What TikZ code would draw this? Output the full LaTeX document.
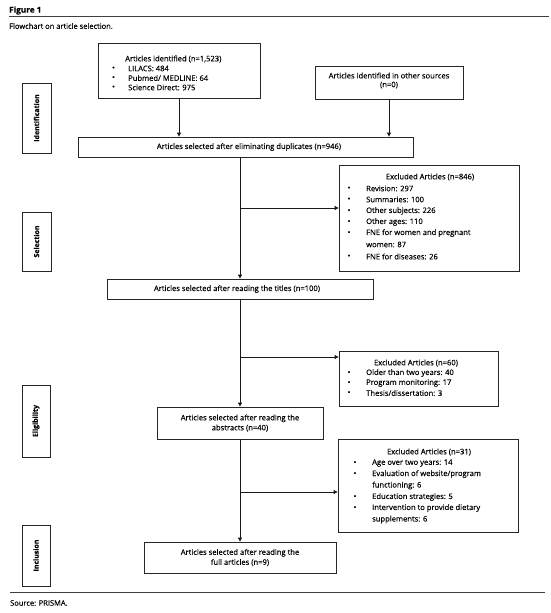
\documentclass[tikz,border=0pt]{standalone}
\usepackage{fontspec}
\setmainfont{Open Sans}[FakeBold=0.25]
\usetikzlibrary{arrows.meta}
\begin{document}
\begin{tikzpicture}[x=1pt,y=-1pt,
  every node/.style={font=\fontsize{7.6}{10}\selectfont, text=black},
  box/.style={draw=black!85, line width=0.8pt, inner sep=0pt, align=center},
  stagetext/.style={rotate=90, font=\fontsize{7}{8}\selectfont\bfseries, inner sep=0pt},
  txt/.style={anchor=west, inner sep=0pt},
  bul/.style={anchor=center, inner sep=0pt, font=\fontsize{7.5}{8}\selectfont},
  conn/.style={draw=black!90, line width=0.8pt},
  arr/.style={conn, -{Triangle[length=4pt,width=4pt]}},
  rulea/.style={draw=black!75, line width=1.4pt},
  ruleb/.style={draw=black!75, line width=1pt}]
\useasboundingbox (0,0) rectangle (550,613);

% header
\node[txt, font=\fontsize{8.2}{9}\selectfont\bfseries] (fig) at (9,10.5) {Figure 1};
\coordinate (r1a) at (9,16.5);
\coordinate (r1b) at (549,16.5);
\draw[rulea] (r1a) -- (r1b);
\node[txt, font=\fontsize{7.5}{8}\selectfont] (cap) at (9,26) {Flowchart on article selection.};

% stage boxes
\node[box, minimum width=29, minimum height=70] (ident) at (36.5,118) {};
\node[stagetext] (identt) at (ident.center) {Identification};
\node[box, minimum width=29, minimum height=59] (sel) at (36.5,241.5) {};
\node[stagetext] (selt) at (sel.center) {Selection};
\node[box, minimum width=28, minimum height=72] (elig) at (36,421) {};
\node[stagetext] (eligt) at (elig.center) {Eligibility};
\node[box, minimum width=28, minimum height=61] (incl) at (36,555.5) {};
\node[stagetext] (inclt) at (incl.center) {Inclusion};

% top left box
\node[box, minimum width=162, minimum height=55] (top) at (179,70.5) {};
\node[txt] (topt) at (125,59) {Articles identified (n=1,523)};
\node[bul] (tb1) at (113.5,68.5) {•};
\node[txt] (tl1) at (128,68.5) {LILACS: 484};
\node[bul] (tb2) at (113.5,78) {•};
\node[txt] (tl2) at (128,78) {Pubmed/ MEDLINE: 64};
\node[bul] (tb3) at (113.5,87.5) {•};
\node[txt] (tl3) at (128,87.5) {Science Direct: 975};

% other sources
\node[box, minimum width=148, minimum height=33] (other) at (389,82.5) {};
\node[inner sep=0pt, align=center, font=\fontsize{7.6}{8.8}\selectfont] (othert) at (389,80.5) {Articles identified in other sources\\(n=0)};

% duplicates
\node[box, minimum width=335, minimum height=20] (dup) at (245.5,147) {};
\node[inner sep=0pt] (dupt) at (249,147) {Articles selected after eliminating duplicates (n=946)};

\coordinate (ax1) at (179,0);
\coordinate (ax2) at (389,0);
\draw[arr] (top.south -| ax1) -- (dup.north -| ax1);
\draw[arr] (other.south -| ax2) -- (dup.north -| ax2);

% excluded 1
\node[box, minimum width=180, minimum height=106] (ex1) at (429,218) {};
\node[inner sep=0pt] (ex1t) at (430,177) {Excluded Articles (n=846)};
\node[bul] (e1b1) at (349,188.5) {•};
\node[txt] (e1l1) at (366,188.5) {Revision: 297};
\node[bul] (e1b2) at (349,199.5) {•};
\node[txt] (e1l2) at (366,199.5) {Summaries: 100};
\node[bul] (e1b3) at (349,211) {•};
\node[txt] (e1l3) at (366,211) {Other subjects: 226};
\node[bul] (e1b4) at (349,222) {•};
\node[txt] (e1l4) at (366,222) {Other ages: 110};
\node[bul] (e1b5) at (349,233) {•};
\node[txt] (e1l5) at (366,233) {FNE for women and pregnant};
\node[txt] (e1l5b) at (366,244.5) {women: 87};
\node[bul] (e1b6) at (349,256.5) {•};
\node[txt] (e1l6) at (366,256.5) {FNE for diseases: 26};

% titles
\node[box, minimum width=266, minimum height=20] (titles) at (240,289) {};
\node[inner sep=0pt] (titlest) at (237,289) {Articles selected after reading the titles (n=100)};

% excluded 2
\node[box, minimum width=159, minimum height=55] (ex2) at (418.5,378.5) {};
\node[inner sep=0pt] (ex2t) at (416,363) {Excluded Articles (n=60)};
\node[bul] (e2b1) at (349,373) {•};
\node[txt] (e2l1) at (366,373) {Older than two years: 40};
\node[bul] (e2b2) at (349,383) {•};
\node[txt] (e2l2) at (366,383) {Program monitoring: 17};
\node[bul] (e2b3) at (349,393) {•};
\node[txt] (e2l3) at (366,393) {Thesis/dissertation: 3};

% abstracts
\node[box, minimum width=166, minimum height=32] (abs) at (240,423) {};
\node[inner sep=0pt, align=center] (abst) at (240,423) {Articles selected after reading the\\abstracts (n=40)};

% excluded 3
\node[box, minimum width=180, minimum height=93] (ex3) at (428,485.5) {};
\node[inner sep=0pt] (ex3t) at (429,452) {Excluded Articles (n=31)};
\node[bul] (e3b1) at (355,463) {•};
\node[txt] (e3l1) at (372,463) {Age over two years: 14};
\node[bul] (e3b2) at (355,474) {•};
\node[txt] (e3l2) at (372,474) {Evaluation of website/program};
\node[txt] (e3l2b) at (372,485.5) {functioning: 6};
\node[bul] (e3b3) at (355,497) {•};
\node[txt] (e3l3) at (372,497) {Education strategies: 5};
\node[bul] (e3b4) at (355,508) {•};
\node[txt] (e3l4) at (372,508) {Intervention to provide dietary};
\node[txt] (e3l4b) at (372,519.5) {supplements: 6};

% full
\node[box, minimum width=192, minimum height=31] (full) at (240,557.5) {};
\node[inner sep=0pt, align=center] (fullt) at (240,557.5) {Articles selected after reading the\\full articles (n=9)};

% main flow
\coordinate (m1) at (240,208);
\coordinate (m2) at (240,357);
\coordinate (m3) at (240,492);
\draw[arr] (dup.south -| m1) -- (titles.north -| m1);
\draw[arr] (m1) -- (m1 -| ex1.west);
\draw[arr] (titles.south -| m2) -- (abs.north -| m2);
\draw[arr] (m2) -- (m2 -| ex2.west);
\draw[arr] (abs.south -| m3) -- (full.north -| m3);
\draw[arr] (m3) -- (m3 -| ex3.west);

% footer
\coordinate (r2a) at (10,592);
\coordinate (r2b) at (545,592);
\draw[ruleb] (r2a) -- (r2b);
\node[txt, font=\fontsize{7.5}{8}\selectfont] (src) at (10,603) {Source: PRISMA.};
\end{tikzpicture}
\end{document}
